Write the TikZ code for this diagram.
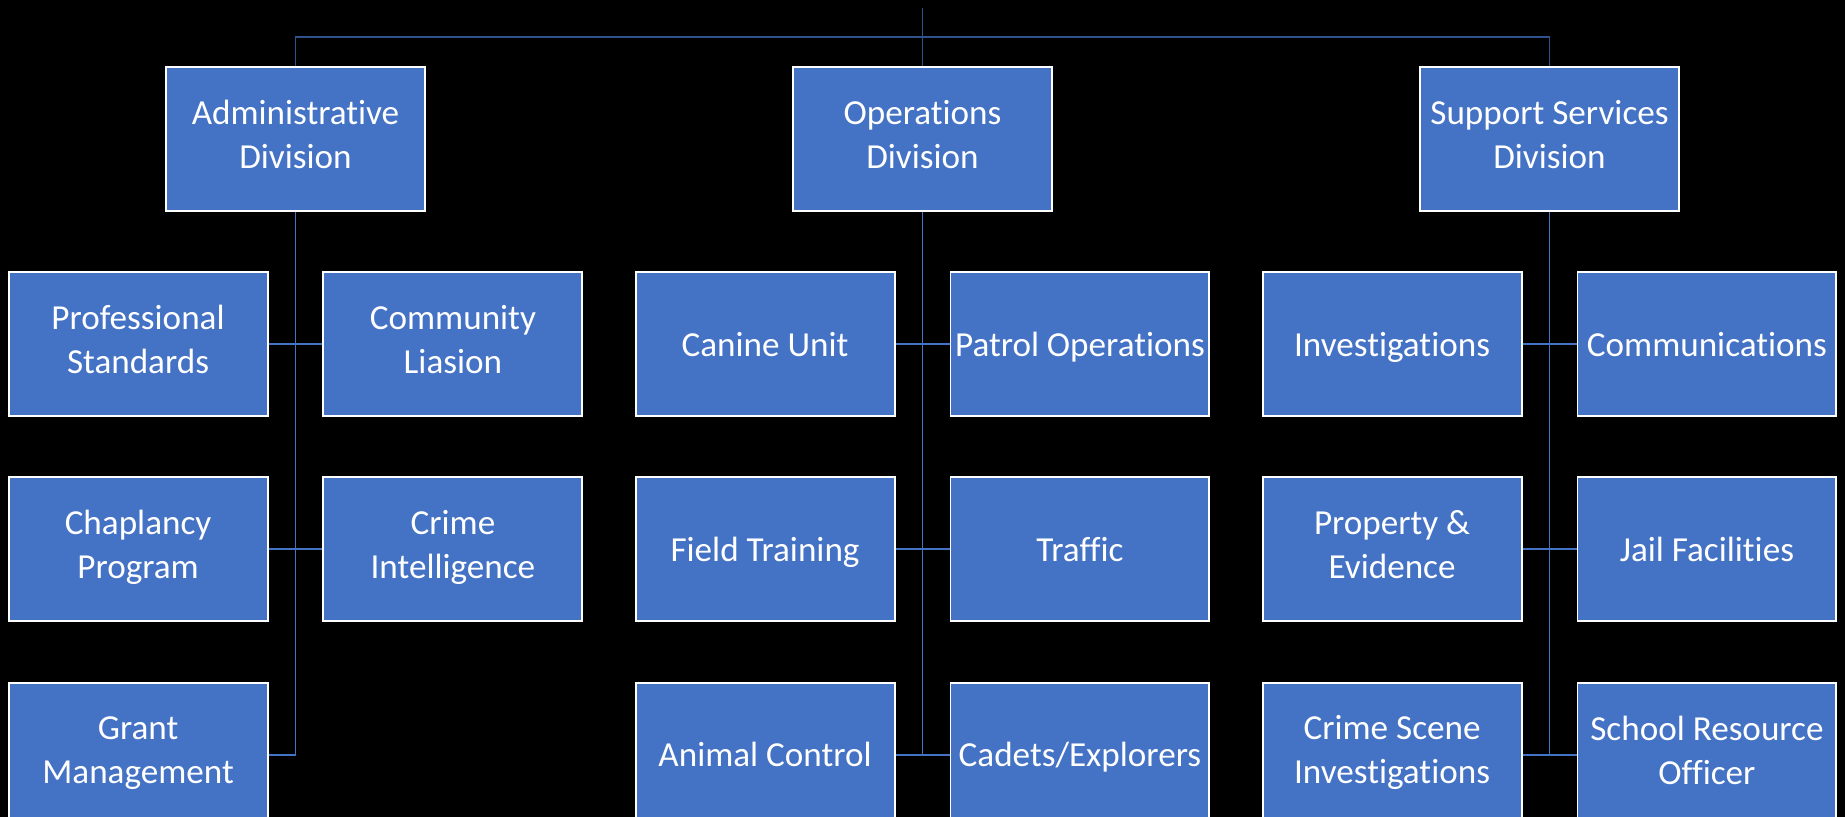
\documentclass[tikz,border=0pt]{standalone}
\usepackage{fontspec}
\setmainfont{Carlito}[Ligatures=NoCommon]
\usepackage{tikz}
\usetikzlibrary{positioning}

\definecolor{unitblue}{HTML}{4472C4}
\definecolor{busblue}{HTML}{2F528F}

\newcommand{\unitstrut}{\rule[-5.5pt]{0pt}{25pt}}

\tikzset{
  unit/.style={draw=white, line width=1.1pt, fill=unitblue, text=white,
    minimum width=5.18cm, minimum height=2.88cm, inner sep=2pt,
    align=center, font=\fontsize{20}{25}\selectfont,
    execute at begin node=\unitstrut, execute at end node=\unitstrut},
  link/.style={draw=unitblue, line width=1.1pt},
  bus/.style={draw=busblue, line width=1.1pt}
}

\begin{document}
\begin{tikzpicture}[x=0.02cm, y=-0.02cm]
\useasboundingbox (0,0) rectangle (1845,817);
\clip (0,0) rectangle (1845,817);
\fill[black] (0,0) rectangle (1845,817);

% divisions
\node[unit] (adm) at (295.5,139) {Administrative\\Division};
\node[unit] (ops) at (922.5,139) {Operations\\Division};
\node[unit] (sup) at (1549.5,139) {Support Services\\Division};

% administrative units
\node[unit, below left=1.18cm and 0.54cm of adm.south] (ps) {Professional\\Standards};
\node[unit, below right=1.18cm and 0.54cm of adm.south] (cl) {Community\\Liasion};
\node[unit, below=1.19cm of ps] (cp) {Chaplancy\\Program};
\node[unit, below=1.19cm of cl] (ci) {Crime\\Intelligence};
\node[unit, below=1.19cm of cp] (gm) {Grant\\Management};

% operations units
\node[unit, below left=1.18cm and 0.54cm of ops.south] (cu) {Canine Unit};
\node[unit, below right=1.18cm and 0.54cm of ops.south] (po) {Patrol Operations};
\node[unit, below=1.19cm of cu] (ft) {Field Training};
\node[unit, below=1.19cm of po] (tr) {Traffic};
\node[unit, below=1.19cm of ft] (ac) {Animal Control};
\node[unit, below=1.19cm of tr] (ce) {Cadets/Explorers};

% support units
\node[unit, below left=1.18cm and 0.54cm of sup.south] (inv) {Investigations};
\node[unit, below right=1.18cm and 0.54cm of sup.south] (com) {Communications};
\node[unit, below=1.19cm of inv] (pe) {Property \&\\Evidence};
\node[unit, below=1.19cm of com] (jf) {Jail Facilities};
\node[unit, below=1.19cm of pe] (csi) {Crime Scene\\Investigations};
\node[unit, below=1.19cm of jf] (sro) {School Resource\\Officer};

% top bus
\coordinate (top) at (922.5,8);
\coordinate (bus) at (922.5,37);
\draw[bus] (top) -- (ops.north);
\draw[bus] (adm.north) |- (bus) -| (sup.north);

% trunks
\draw[link] (adm.south) -- (adm.south |- gm.east);
\draw[link] (ops.south) -- (ops.south |- ac.east);
\draw[link] (sup.south) -- (sup.south |- csi.east);

% branches
\draw[link] (ps.east) -- (cl.west);
\draw[link] (cp.east) -- (ci.west);
\draw[link] (gm.east) -- (adm.south |- gm.east);
\draw[link] (cu.east) -- (po.west);
\draw[link] (ft.east) -- (tr.west);
\draw[link] (ac.east) -- (ce.west);
\draw[link] (inv.east) -- (com.west);
\draw[link] (pe.east) -- (jf.west);
\draw[link] (csi.east) -- (sro.west);
\end{tikzpicture}
\end{document}
